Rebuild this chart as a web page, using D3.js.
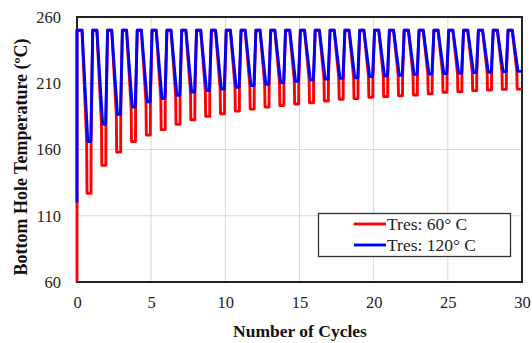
<!DOCTYPE html>
<html>
<head>
<meta charset="utf-8">
<script src="https://cdn.jsdelivr.net/npm/d3@7"></script>
<style>
  html, body { margin: 0; padding: 0; background: #fff; }
  svg { display: block; }
</style>
</head>
<body>
<svg id="chart" width="532" height="343"></svg>
<script>
// Bottom hole temperature over repeated injection cycles, two reservoir temperatures.
const cycleIndex = d3.range(30);
const xTicks = [0, 5, 10, 15, 20, 25, 30];
const yTicks = [60, 110, 160, 210, 260];
const seriesNames = ["Tres: 60° C", "Tres: 120° C"];

// Temperature at the top of each cycle and at the start of the run
const peakTemp = 250;
const initialTemp60 = 60;
const initialTemp120 = 120;

// Minimum temperature reached in each cycle (°C)
const minTemp120 = [166, 179, 186.5, 192, 196, 198.5, 201, 203.3, 204.5, 205.7,
                    207, 208.2, 209.3, 210.4, 211.5, 212.5, 213.2, 213.7, 214.2, 215,
                    215.5, 216, 216.5, 217, 217.3, 217.6, 218, 218.3, 218.6, 219];
const minTemp60 = [127, 148, 158, 166, 171, 175, 179, 182.5, 185, 187,
                   189, 190.5, 192, 193.2, 194.3, 195.3, 196.6, 197.9, 198.4, 199.4,
                   199.9, 200.6, 201.1, 202.1, 203.2, 203.6, 204.4, 204.9, 205.4, 205.6];

// Phase timing inside one cycle (fraction of a cycle)
const phaseTopStart = 0.06, phaseTopEnd = 0.34, phaseBottomStart = 0.73, phaseBottomEnd = 0.93;
const nCycles = cycleIndex.length;

function buildSeries(initial, mins, shoulder) {
  const pts = [[0, initial], [0, peakTemp]];
  cycleIndex.forEach(k => {
    if (k > 0) pts.push([k + phaseTopStart, peakTemp]);
    pts.push([k + phaseTopEnd, peakTemp]);
    const last = k === nCycles - 1;
    if (shoulder) {
      // deeper notch below the warmer curve's minimum
      pts.push([k + phaseBottomStart - 0.08, shoulder[k]]);
      pts.push([k + phaseBottomStart - 0.055, mins[k]]);
      pts.push([last ? nCycles : k + phaseBottomEnd + 0.015, mins[k]]);
      if (!last) pts.push([k + phaseBottomEnd + 0.02, shoulder[k]]);
    } else {
      pts.push([k + phaseBottomStart, mins[k]]);
      pts.push([last ? nCycles : k + phaseBottomEnd, mins[k]]);
    }
  });
  return pts;
}

const series60 = buildSeries(initialTemp60, minTemp60, minTemp120);
const series120 = buildSeries(initialTemp120, minTemp120, null);

const svg = d3.select("#chart");
const plotLeft = 77, plotRight = 522, plotTop = 17, plotBottom = 282;

const x = d3.scaleLinear().domain([0, 30]).range([plotLeft, plotRight]);
const y = d3.scaleLinear().domain([60, 260]).range([plotBottom, plotTop]);

// Grid
svg.append("g").selectAll("line").data(xTicks.slice(1, -1)).join("line")
  .attr("x1", d => x(d)).attr("x2", d => x(d))
  .attr("y1", plotTop).attr("y2", plotBottom)
  .attr("stroke", "#dadada").attr("stroke-width", 1);
svg.append("g").selectAll("line").data(yTicks.slice(1, -1)).join("line")
  .attr("x1", plotLeft).attr("x2", plotRight)
  .attr("y1", d => y(d)).attr("y2", d => y(d))
  .attr("stroke", "#dadada").attr("stroke-width", 1);

// Frame
svg.append("rect")
  .attr("x", plotLeft).attr("y", plotTop)
  .attr("width", plotRight - plotLeft).attr("height", plotBottom - plotTop)
  .attr("fill", "none").attr("stroke", "#222").attr("stroke-width", 2);

// Series
const line = d3.line().x(d => x(d[0])).y(d => y(d[1]));
svg.append("path").datum(series60)
  .attr("d", line).attr("fill", "none")
  .attr("stroke", "#ff0000").attr("stroke-width", 2.9)
  .attr("stroke-linejoin", "round");
svg.append("path").datum(series120)
  .attr("d", line).attr("fill", "none")
  .attr("stroke", "#0000ff").attr("stroke-width", 2.9)
  .attr("stroke-linejoin", "round");

// Axes
const tickFont = "'Liberation Serif', 'Times New Roman', serif";
const xAxis = svg.append("g")
  .attr("transform", `translate(0,${plotBottom})`)
  .call(d3.axisBottom(x).tickValues(xTicks).tickSize(0).tickFormat(d3.format("d")));
xAxis.select(".domain").remove();
xAxis.selectAll("text").attr("y", 26).attr("dy", 0)
  .style("font-family", tickFont).style("font-size", "16.5px").attr("fill", "#222");

const yAxis = svg.append("g")
  .attr("transform", `translate(${plotLeft},0)`)
  .call(d3.axisLeft(y).tickValues(yTicks).tickSize(0).tickPadding(16).tickFormat(d3.format("d")));
yAxis.select(".domain").remove();
yAxis.selectAll("text")
  .style("font-family", tickFont).style("font-size", "16.5px").attr("fill", "#222");

// Axis titles
svg.append("text")
  .attr("x", 300).attr("y", 337)
  .attr("text-anchor", "middle")
  .style("font-family", tickFont).style("font-size", "17.5px").style("font-weight", "bold")
  .attr("fill", "#111")
  .text("Number of Cycles");
svg.append("text")
  .attr("transform", "translate(27,157) rotate(-90)")
  .attr("text-anchor", "middle")
  .style("font-family", tickFont).style("font-size", "18px").style("font-weight", "bold")
  .attr("fill", "#111")
  .text("Bottom Hole Temperature (ºC)");

// Legend
const legend = svg.append("g");
legend.append("rect")
  .attr("x", 318.5).attr("y", 213.5).attr("width", 192).attr("height", 43)
  .attr("fill", "#fff").attr("stroke", "#333").attr("stroke-width", 1.3);
const legendColors = ["#ff0000", "#0000ff"];
seriesNames.forEach((name, i) => {
  const cy = 224 + i * 21;
  legend.append("line")
    .attr("x1", 354).attr("x2", 386).attr("y1", cy).attr("y2", cy)
    .attr("stroke", legendColors[i]).attr("stroke-width", 2.9);
  legend.append("text")
    .attr("x", 387).attr("y", cy + 6)
    .style("font-family", tickFont).style("font-size", "17.5px")
    .attr("fill", "#222")
    .text(name);
});
</script>
</body>
</html>
